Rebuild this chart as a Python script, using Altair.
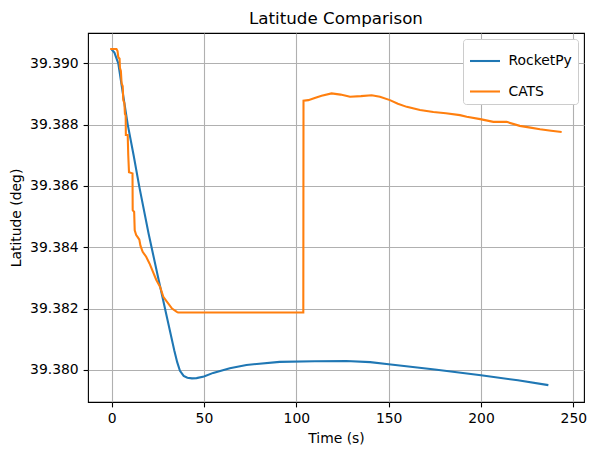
import altair as alt
import pandas as pd

# RocketPy simulated latitude
rocketpy_time = [0, 1.5, 3.6, 6, 8.7, 12, 15, 20, 24.7, 30, 33.9, 35.5, 37, 39, 41, 43.5,
                 46, 50, 55, 64, 73, 91, 110, 127, 140, 150, 175, 200, 220, 236.5]
rocketpy_lat = [39.39045, 39.39035, 39.39000, 39.38905, 39.38801, 39.38697, 39.38597, 39.38445,
                39.38314, 39.38170, 39.38064, 39.38025, 39.37997, 39.37980, 39.37974, 39.37972,
                39.37973, 39.37978, 39.37990, 39.38005, 39.38016, 39.38026, 39.38028, 39.38029,
                39.38025, 39.38018, 39.38001, 39.37982, 39.37966, 39.37950]

# CATS flight computer latitude
cats_time = [-0.8, 2.6, 3.2, 3.6, 4.3, 4.5, 5.0, 5.4, 6.0, 6.3, 6.9, 7.2, 7.6, 7.7, 8.7, 9.0,
             9.4, 11.3, 11.4, 12.2, 12.5, 13.3, 14.2, 15.0, 15.6, 16.8, 18.7, 20.5, 22.0, 24.2,
             26.2, 28.0, 30.0, 32.7, 35.3, 36.0, 103.8, 103.9, 106.5, 110.0, 113.7, 119.1,
             124.0, 129.1, 135.0, 140.8, 145.3, 150.7, 155.0, 159.8, 167.0, 174.2, 181.0,
             188.6, 192.3, 199.6, 206.7, 213.9, 221.0, 226.0, 232.0, 238.0, 243.7]
cats_lat = [39.39047, 39.39047, 39.39040, 39.39020, 39.39015, 39.38985, 39.38975, 39.38935,
            39.38925, 39.38880, 39.38870, 39.38835, 39.38830, 39.38766, 39.38766, 39.38700,
            39.38645, 39.38641, 39.38521, 39.38515, 39.38455, 39.38440, 39.38432, 39.38425,
            39.38405, 39.38385, 39.38369, 39.38347, 39.38325, 39.38293, 39.38271, 39.38238,
            39.38222, 39.38200, 39.38189, 39.38187, 39.38187, 39.38878, 39.38880, 39.38887,
            39.38894, 39.38902, 39.38898, 39.38891, 39.38893, 39.38896, 39.38891, 39.38880,
            39.38868, 39.38858, 39.38848, 39.38841, 39.38837, 39.38831, 39.38826, 39.38818,
            39.38809, 39.38809, 39.38796, 39.38791, 39.38785, 39.38780, 39.38776]

series_names = ["RocketPy", "CATS"]
series_colors = ["#1f77b4", "#ff7f0e"]
x_ticks = [0, 50, 100, 150, 200, 250]
y_ticks = [39.380, 39.382, 39.384, 39.386, 39.388, 39.390]

df = pd.concat([
    pd.DataFrame({"t": rocketpy_time, "lat": rocketpy_lat, "series": "RocketPy",
                  "idx": range(len(rocketpy_time))}),
    pd.DataFrame({"t": cats_time, "lat": cats_lat, "series": "CATS",
                  "idx": range(len(cats_time))}),
])

FONT = "DejaVu Sans"

chart = alt.Chart(df).mark_line(strokeWidth=2.08, clip=True).encode(
    x=alt.X("t:Q",
            scale=alt.Scale(domain=[-12.8, 255.8], nice=False, zero=False),
            axis=alt.Axis(values=x_ticks, title="Time (s)", format="d")),
    y=alt.Y("lat:Q",
            scale=alt.Scale(domain=[39.37895, 39.39099], nice=False, zero=False),
            axis=alt.Axis(values=y_ticks, title="Latitude (deg)", format=".3f")),
    color=alt.Color("series:N",
                    scale=alt.Scale(domain=series_names, range=series_colors),
                    legend=alt.Legend(title=None, orient="top-right", offset=6,
                                      padding=5.5, cornerRadius=3,
                                      strokeColor="#cccccc", fillColor="white",
                                      symbolType="stroke", symbolSize=900,
                                      symbolStrokeWidth=2.08, labelOffset=7,
                                      rowPadding=6.5, labelFont=FONT,
                                      labelFontSize=13.9, labelColor="black")),
    order="idx:Q",
).properties(
    width=496,
    height=369,
    title=alt.TitleParams("Latitude Comparison", font=FONT, fontSize=16.7,
                          fontWeight="normal", color="black", anchor="middle",
                          baseline="bottom", offset=-12),
    autosize=alt.AutoSizeParams(type="none"),
    padding={"left": 88, "top": 33, "right": 12, "bottom": 53},
).configure_view(
    stroke="black", strokeWidth=1.1
).configure_axis(
    labelFont=FONT, labelFontSize=13.9, labelColor="black",
    titleFont=FONT, titleFontSize=13.9, titleColor="black", titleFontWeight="normal",
    grid=True, gridColor="#b0b0b0", gridWidth=1.1,
    domain=False, ticks=True, tickColor="black", tickWidth=1.1, tickSize=4.9,
    labelPadding=4.9, titlePadding=5.6, labelFlush=False, labelOverlap=False,
)

chart.save("out.html", embed_options={"renderer": "svg", "actions": False})
